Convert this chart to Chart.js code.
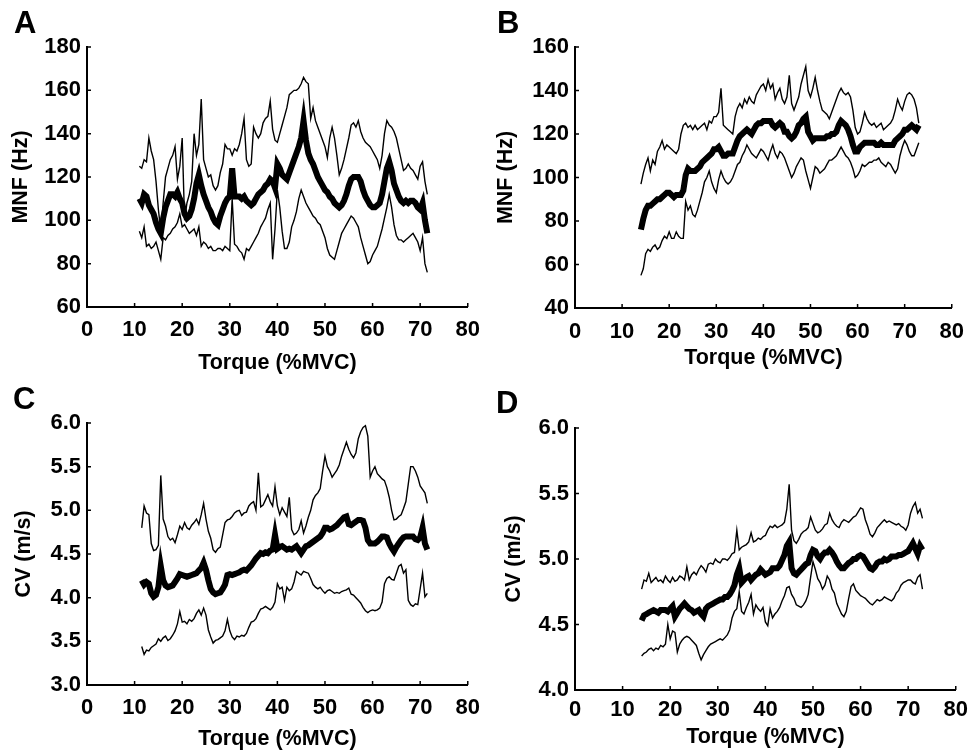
<!DOCTYPE html>
<html>
<head>
<meta charset="utf-8">
<script src="https://cdn.jsdelivr.net/npm/chart.js@4.4.1/dist/chart.umd.min.js"></script>
<style>
  html, body { margin: 0; padding: 0; background: #fff; }
  #wrap { position: relative; width: 975px; height: 754px; overflow: hidden; }
  canvas { position: absolute; }
  .lbl { position: absolute; font: bold 31px "Liberation Sans", Arial, sans-serif; line-height: 30px; color: #000; }
</style>
</head>
<body>
<div id="wrap">
  <canvas id="cA" width="490" height="380" style="left:0;top:0"></canvas>
  <canvas id="cB" width="485" height="380" style="left:490px;top:0"></canvas>
  <canvas id="cC" width="490" height="374" style="left:0;top:380px"></canvas>
  <canvas id="cD" width="485" height="374" style="left:490px;top:380px"></canvas>
  <div class="lbl" style="left:14px;top:8px">A</div>
  <div class="lbl" style="left:497px;top:8px">B</div>
  <div class="lbl" style="left:13px;top:384px">C</div>
  <div class="lbl" style="left:496px;top:388px">D</div>
</div>
<script>
// ── torque axes (%MVC) ─────────────────────────────
const torqueA = [
  11,11.5,12,12.5,13,13.5,14,14.5,15,15.5,
  16,16.5,17,17.5,18,18.5,19,19.5,20,20.5,
  21,21.5,22,22.5,23,23.5,24,24.5,25,25.5,
  26,26.5,27,27.5,28,28.5,29,29.5,30,30.5,
  31,31.5,32,32.5,33,33.5,34,34.5,35,35.5,
  36,36.5,37,37.5,38,38.5,39,39.5,40,40.5,
  41,41.5,42,42.5,43,43.5,44,44.5,45,45.5,
  46,46.5,47,47.5,48,48.5,49,49.5,50,50.5,
  51,51.5,52,52.5,53,53.5,54,54.5,55,55.5,
  56,56.5,57,57.5,58,58.5,59,59.5,60,60.5,
  61,61.5,62,62.5,63,63.5,64,64.5,65,65.5,
  66,66.5,67,67.5,68,68.5,69,69.5,70,70.5,
  71,71.5
];
const torqueC = [
  11.5,12,12.5,13,13.5,14,14.5,15,15.5,16,
  16.5,17,17.5,18,18.5,19,19.5,20,20.5,21,
  21.5,22,22.5,23,23.5,24,24.5,25,25.5,26,
  26.5,27,27.5,28,28.5,29,29.5,30,30.5,31,
  31.5,32,32.5,33,33.5,34,34.5,35,35.5,36,
  36.5,37,37.5,38,38.5,39,39.5,40,40.5,41,
  41.5,42,42.5,43,43.5,44,44.5,45,45.5,46,
  46.5,47,47.5,48,48.5,49,49.5,50,50.5,51,
  51.5,52,52.5,53,53.5,54,54.5,55,55.5,56,
  56.5,57,57.5,58,58.5,59,59.5,60,60.5,61,
  61.5,62,62.5,63,63.5,64,64.5,65,65.5,66,
  66.5,67,67.5,68,68.5,69,69.5,70,70.5,71,
  71.5
];
const torqueBD = [
  14,14.5,15,15.5,16,16.5,17,17.5,18,18.5,
  19,19.5,20,20.5,21,21.5,22,22.5,23,23.5,
  24,24.5,25,25.5,26,26.5,27,27.5,28,28.5,
  29,29.5,30,30.5,31,31.5,32,32.5,33,33.5,
  34,34.5,35,35.5,36,36.5,37,37.5,38,38.5,
  39,39.5,40,40.5,41,41.5,42,42.5,43,43.5,
  44,44.5,45,45.5,46,46.5,47,47.5,48,48.5,
  49,49.5,50,50.5,51,51.5,52,52.5,53,53.5,
  54,54.5,55,55.5,56,56.5,57,57.5,58,58.5,
  59,59.5,60,60.5,61,61.5,62,62.5,63,63.5,
  64,64.5,65,65.5,66,66.5,67,67.5,68,68.5,
  69,69.5,70,70.5,71,71.5,72,72.5,73
];

// ── A: MNF (Hz) ───────────────────────────────────
const aUpper = [
  125,124,128,127,138,132,128,118,105,95,
  108,120,124,128,130,134,119,125,138,100,
  108,112,118,140,130,135,156,128,124,120,
  121,116,114,116,122,126,135,133,133,130,
  133,132,135,140,147,128,125,126,143,140,
  138,140,145,147,148,155,142,137,136,140,
  144,148,152,158,159,160,160,161,163,166,
  164,163,147,152,146,143,140,137,134,129,
  138,143,138,130,121,124,128,133,138,144,
  145,143,146,141,138,136,135,134,132,130,
  128,124,130,140,146,144,143,141,138,133,
  128,123,124,126,124,123,121,119,125,127,
  118,112
];
const aMean = [
  110,108,112,111,107,105,103,99,96,94,
  101,106,109,112,112,111,113,110,108,103,
  101,102,105,110,117,121,116,112,109,106,
  104,101,99,98,102,105,108,110,111,124,
  111,111,111,110,111,109,108,107,108,110,
  112,113,114,116,117,119,118,115,126,124,
  121,120,119,122,125,128,131,134,138,146,
  137,131,128,126,123,120,118,116,114,113,
  111,110,108,107,106,107,109,112,116,119,
  120,120,120,118,114,111,109,107,106,106,
  107,108,112,118,124,127,123,117,114,111,
  109,108,109,108,109,109,108,106,105,108,
  100,94
];
const aLower = [
  95,92,97,88,89,87,88,90,86,82,
  92,91,93,94,96,97,99,103,97,98,
  96,94,95,96,93,97,88,90,89,87,
  88,86,86,87,87,86,88,87,86,110,
  89,88,86,85,82,87,86,88,90,92,
  94,97,99,101,105,108,82,96,114,106,
  95,87,87,90,97,100,104,110,114,111,
  108,106,104,102,101,99,98,95,92,87,
  84,83,82,86,90,94,96,98,100,102,
  101,99,97,92,88,84,80,81,84,86,
  88,92,96,101,106,112,106,98,93,91,
  91,90,91,92,93,94,92,90,86,92,
  80,76
];

// ── B: MNF (Hz) ───────────────────────────────────
const bUpper = [
  97,102,106,109,103,108,106,112,114,117,
  113,115,114,113,112,111,113,120,124,125,
  123,124,122,124,122,123,124,125,122,126,
  125,128,128,130,141,124,123,122,121,120,
  128,132,134,132,136,134,137,135,134,138,
  140,142,143,140,145,141,143,136,139,141,
  136,134,137,147,134,131,134,137,143,147,
  151,140,137,141,146,140,135,131,130,129,
  127,130,133,136,139,141,139,138,139,137,
  131,123,120,121,125,130,127,125,124,125,
  123,124,125,122,123,124,125,127,131,136,
  133,131,135,138,139,138,136,132,125
];
const bMean = [
  76,81,85,87,87,88,89,90,90,91,
  92,93,93,92,91,92,92,92,94,101,
  104,103,103,103,104,105,107,108,109,110,
  111,113,113,114,112,110,110,111,111,111,
  114,117,119,120,121,122,121,120,122,124,
  125,125,126,126,126,126,124,123,124,125,
  124,121,121,119,118,119,121,124,125,127,
  128,121,119,117,118,118,118,118,118,119,
  119,120,120,121,124,126,125,124,122,119,
  115,112,112,114,115,116,116,116,116,116,
  115,115,116,115,115,115,115,115,117,118,
  119,120,122,122,123,124,123,122,124
];
const bLower = [
  55,58,65,67,66,68,69,67,68,71,
  73,72,75,72,72,75,73,72,72,89,
  85,87,83,82,85,89,93,98,100,103,
  98,95,93,99,103,100,98,97,98,100,
  103,106,107,110,112,115,113,111,110,109,
  111,113,112,110,108,112,115,111,109,112,
  111,109,106,103,100,102,105,107,109,108,
  103,99,95,100,105,104,102,103,104,106,
  108,108,109,110,112,114,112,110,109,107,
  104,100,101,103,106,105,106,107,107,108,
  108,109,107,106,105,107,106,104,102,104,
  110,114,117,115,112,110,110,113,116
];

// ── C: CV (m/s) ───────────────────────────────────
const cUpper = [
  4.80,5.05,4.97,4.95,4.62,4.54,4.55,4.60,5.40,4.90,
  4.82,4.70,4.66,4.68,4.63,4.72,4.82,4.78,4.86,4.80,
  4.78,4.83,4.86,4.90,4.84,4.95,5.08,4.90,4.76,4.68,
  4.55,4.52,4.56,4.58,4.72,4.86,4.89,4.90,4.93,4.97,
  4.99,5.00,4.94,4.97,4.98,5.05,5.08,5.10,5.00,5.43,
  5.04,5.06,5.12,5.18,5.10,5.05,5.27,5.05,4.95,5.03,
  4.98,4.93,5.15,4.78,4.72,4.74,4.78,4.88,4.74,4.82,
  4.92,5.00,5.12,5.17,5.20,5.25,5.45,5.62,5.50,5.45,
  5.38,5.42,5.46,5.52,5.62,5.70,5.78,5.70,5.64,5.60,
  5.66,5.82,5.90,5.95,5.97,5.85,5.38,5.45,5.50,5.42,
  5.39,5.36,5.34,5.26,5.15,5.00,4.89,4.90,4.93,4.95,
  5.02,5.10,5.30,5.50,5.50,5.45,5.38,5.28,5.24,5.20,
  5.08
];
const cMean = [
  4.20,4.15,4.18,4.16,4.05,4.01,4.03,4.12,4.36,4.20,
  4.14,4.12,4.13,4.14,4.18,4.22,4.27,4.26,4.25,4.24,
  4.25,4.26,4.27,4.28,4.31,4.34,4.40,4.32,4.20,4.10,
  4.06,4.04,4.05,4.06,4.10,4.15,4.26,4.27,4.26,4.27,
  4.28,4.29,4.31,4.32,4.31,4.34,4.37,4.41,4.45,4.48,
  4.51,4.50,4.52,4.51,4.54,4.55,4.72,4.56,4.58,4.59,
  4.57,4.55,4.56,4.55,4.57,4.59,4.55,4.51,4.55,4.59,
  4.60,4.62,4.64,4.66,4.68,4.70,4.74,4.80,4.80,4.78,
  4.79,4.81,4.83,4.86,4.89,4.92,4.93,4.84,4.83,4.85,
  4.87,4.89,4.89,4.88,4.80,4.66,4.62,4.62,4.62,4.64,
  4.67,4.70,4.70,4.69,4.62,4.57,4.53,4.58,4.62,4.66,
  4.69,4.70,4.70,4.70,4.70,4.67,4.66,4.69,4.80,4.62,
  4.55
];
const cLower = [
  3.44,3.35,3.40,3.39,3.43,3.45,3.47,3.53,3.50,3.54,
  3.56,3.51,3.53,3.57,3.62,3.70,3.84,3.72,3.73,3.70,
  3.75,3.73,3.76,3.82,3.86,3.80,3.88,3.80,3.63,3.55,
  3.48,3.51,3.52,3.54,3.56,3.62,3.75,3.62,3.55,3.52,
  3.56,3.55,3.57,3.56,3.59,3.66,3.72,3.73,3.76,3.82,
  3.87,3.88,3.90,3.88,3.86,3.89,3.95,4.16,4.10,4.12,
  3.97,4.12,4.08,4.10,4.18,4.30,4.28,4.26,4.30,4.29,
  4.28,4.22,4.15,4.12,4.10,4.12,4.08,4.05,4.08,4.09,
  4.07,4.05,4.06,4.05,4.07,4.08,4.09,4.11,4.04,4.03,
  4.00,3.97,3.94,3.89,3.85,3.83,3.85,3.86,3.85,3.86,
  3.88,3.95,4.16,4.22,4.24,4.21,4.20,4.28,4.36,4.38,
  4.28,4.32,3.97,3.92,3.90,3.93,3.92,4.10,4.28,4.01,
  4.05
];

// ── D: CV (m/s) ───────────────────────────────────
const dUpper = [
  4.77,4.84,4.83,4.89,4.82,4.84,4.86,4.83,4.84,4.82,
  4.87,4.84,4.82,4.86,4.83,4.84,4.87,4.86,4.84,4.94,
  4.84,4.88,4.90,4.88,4.92,4.95,4.93,4.90,4.96,4.97,
  4.96,5.00,4.98,4.97,5.00,5.00,4.99,5.01,5.04,5.05,
  5.22,5.07,5.09,5.10,5.11,5.13,5.20,5.13,5.14,5.16,
  5.15,5.17,5.18,5.22,5.25,5.24,5.26,5.24,5.25,5.26,
  5.28,5.38,5.57,5.22,5.14,5.12,5.15,5.19,5.21,5.22,
  5.24,5.32,5.27,5.22,5.20,5.21,5.23,5.26,5.27,5.35,
  5.30,5.27,5.25,5.24,5.28,5.30,5.29,5.28,5.30,5.32,
  5.33,5.36,5.39,5.38,5.30,5.25,5.19,5.17,5.20,5.24,
  5.26,5.28,5.30,5.28,5.29,5.28,5.27,5.26,5.27,5.25,
  5.24,5.22,5.26,5.35,5.40,5.43,5.35,5.38,5.31
];
const dMean = [
  4.53,4.57,4.58,4.59,4.60,4.61,4.60,4.59,4.61,4.61,
  4.61,4.60,4.62,4.64,4.56,4.59,4.62,4.64,4.66,4.64,
  4.62,4.61,4.59,4.60,4.61,4.58,4.56,4.62,4.64,4.65,
  4.66,4.67,4.68,4.69,4.69,4.71,4.71,4.73,4.76,4.80,
  4.88,4.93,4.82,4.84,4.86,4.87,4.84,4.86,4.88,4.89,
  4.92,4.90,4.88,4.89,4.90,4.93,4.93,4.93,4.95,4.99,
  5.03,5.10,5.13,4.93,4.89,4.88,4.90,4.92,4.94,4.96,
  4.97,5.03,5.07,5.06,5.02,5.00,5.03,5.05,5.05,5.07,
  5.05,5.02,4.98,4.95,4.93,4.93,4.95,4.97,4.98,5.00,
  5.00,5.02,5.03,5.02,4.99,4.96,4.93,4.92,4.94,4.97,
  4.98,4.98,5.00,4.99,5.00,5.02,5.02,5.02,5.03,5.03,
  5.04,5.05,5.06,5.09,5.12,5.08,5.04,5.10,5.07
];
const dLower = [
  4.26,4.28,4.29,4.31,4.32,4.30,4.32,4.31,4.34,4.33,
  4.35,4.50,4.39,4.45,4.44,4.29,4.35,4.38,4.40,4.41,
  4.40,4.38,4.36,4.34,4.28,4.23,4.27,4.30,4.33,4.35,
  4.36,4.37,4.38,4.39,4.38,4.40,4.42,4.46,4.55,4.60,
  4.62,4.75,4.60,4.58,4.63,4.67,4.73,4.58,4.65,4.62,
  4.60,4.63,4.52,4.49,4.62,4.55,4.58,4.60,4.63,4.68,
  4.72,4.78,4.79,4.73,4.70,4.65,4.64,4.63,4.65,4.68,
  4.73,4.86,4.98,4.92,4.85,4.82,4.77,4.80,4.87,4.84,
  4.77,4.74,4.66,4.62,4.58,4.56,4.60,4.70,4.79,4.81,
  4.76,4.74,4.72,4.71,4.70,4.68,4.66,4.65,4.67,4.69,
  4.68,4.69,4.71,4.70,4.69,4.68,4.70,4.74,4.76,4.80,
  4.82,4.83,4.84,4.84,4.82,4.81,4.86,4.88,4.77
];

// ── drawing ───────────────────────────────────────
const FONT = '"Liberation Sans", Arial, Helvetica, sans-serif';

// small inward tick marks on both axes
const inwardTicks = {
  id: 'inwardTicks',
  afterDatasetsDraw(chart) {
    const { ctx, chartArea: a, scales: { x, y } } = chart;
    ctx.save();
    ctx.strokeStyle = '#000';
    ctx.lineWidth = 1.5;
    ctx.beginPath();
    x.ticks.forEach(t => {
      const p = x.getPixelForValue(t.value);
      ctx.moveTo(p, a.bottom); ctx.lineTo(p, a.bottom - 4);
    });
    y.ticks.forEach(t => {
      const p = y.getPixelForValue(t.value);
      ctx.moveTo(a.left, p); ctx.lineTo(a.left + 4, p);
    });
    ctx.stroke();
    ctx.restore();
  }
};

const pts = (t, v) => t.map((x, i) => ({ x, y: v[i] }));

function panel(id, torque, upper, mean, lower, o) {
  const line = (data, w) => ({
    data: pts(torque, data), borderColor: '#000', borderWidth: w,
    pointRadius: 0, tension: 0, fill: false, borderJoinStyle: 'miter'
  });
  new Chart(document.getElementById(id), {
    type: 'line',
    data: { datasets: [line(mean, 6), line(upper, 1.4), line(lower, 1.4)] },
    options: {
      responsive: false, animation: false, devicePixelRatio: 1,
      layout: { padding: { top: o.top, right: o.right, left: 0, bottom: 0 } },
      plugins: { legend: { display: false }, tooltip: { enabled: false } },
      scales: {
        x: {
          type: 'linear', min: 0, max: 80,
          afterFit: s => { s.height = o.xh; },
          grid: { drawOnChartArea: false, drawTicks: false },
          border: { display: true, color: '#000', width: 2 },
          ticks: { stepSize: 10, autoSkip: false, maxRotation: 0, padding: o.xtp,
                   color: '#000', font: { family: FONT, size: 22, weight: 'bold' } },
          title: { display: true, text: 'Torque (%MVC)', color: '#000',
                   padding: { top: 0, bottom: o.xtt },
                   font: { family: FONT, size: 21.5, weight: 'bold' } }
        },
        y: {
          min: o.ymin, max: o.ymax,
          afterFit: s => { s.width = o.yw; },
          grid: { drawOnChartArea: false, drawTicks: false },
          border: { display: true, color: '#000', width: 2 },
          ticks: { stepSize: o.ystep, padding: 6, color: '#000',
                   callback: v => o.dec ? Number(v).toFixed(1) : v,
                   font: { family: FONT, size: 22, weight: 'bold' } },
          title: { display: true, text: o.ytitle, color: '#000',
                   padding: { top: o.ytt, bottom: 0 },
                   font: { family: FONT, size: 21.5, weight: 'bold' } }
        }
      }
    },
    plugins: [inwardTicks]
  });
}

panel('cA', torqueA, aUpper, aMean, aLower,
  { top: 47, right: 16, yw: 87, xh: 73, xtp: 10, xtt: 4, ytt: 8,
    ymin: 60, ymax: 180, ystep: 20, dec: false, ytitle: 'MNF (Hz)' });
panel('cB', torqueBD, bUpper, bMean, bLower,
  { top: 47, right: 15, yw: 85, xh: 72, xtp: 11, xtt: 9, ytt: 3,
    ymin: 40, ymax: 160, ystep: 20, dec: false, ytitle: 'MNF (Hz)' });
panel('cC', torqueC, cUpper, cMean, cLower,
  { top: 43, right: 16, yw: 87, xh: 69, xtp: 10, xtt: 2, ytt: 11,
    ymin: 3, ymax: 6, ystep: 0.5, dec: true, ytitle: 'CV (m/s)' });
panel('cD', torqueBD, dUpper, dMean, dLower,
  { top: 48, right: 15, yw: 85, xh: 64, xtp: 7, xtt: 4, ytt: 11,
    ymin: 4, ymax: 6, ystep: 0.5, dec: true, ytitle: 'CV (m/s)' });
</script>
</body>
</html>
